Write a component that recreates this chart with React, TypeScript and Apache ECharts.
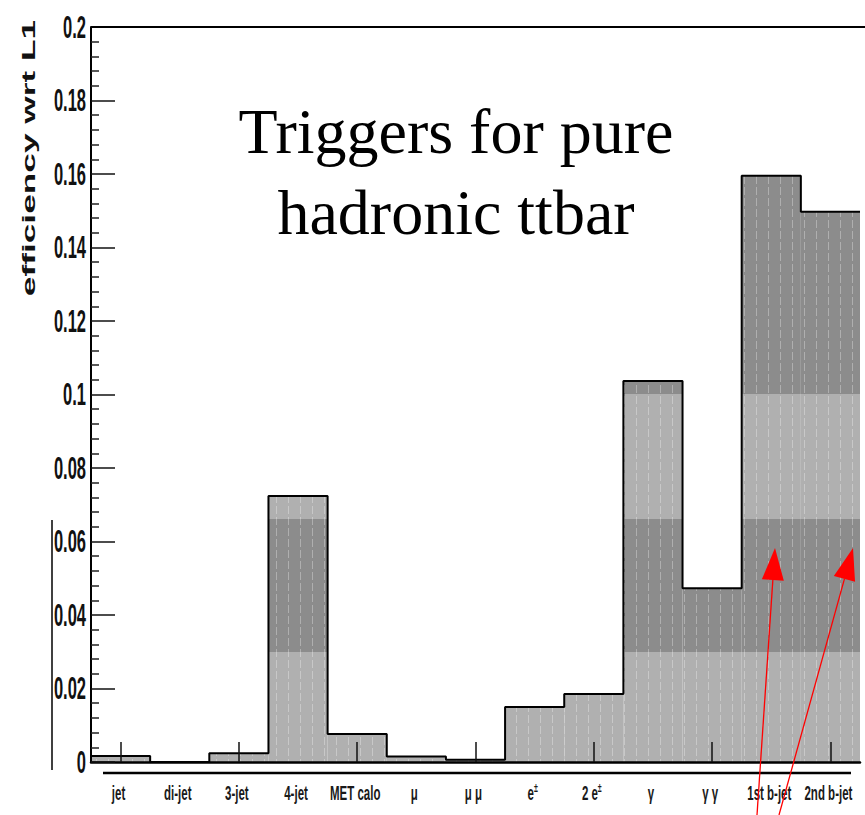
import React, { useEffect, useRef } from 'react';
import * as echarts from 'echarts';

// ---- data ----
const categories = ['jet', 'di-jet', '3-jet', '4-jet', 'MET calo', 'μ', 'μ μ', 'e±', '2 e±', 'γ', 'γ γ', '1st b-jet', '2nd b-jet'];
const efficiency = [0.0016, 0, 0.0024, 0.0724, 0.0076, 0.0015, 0.0006, 0.015, 0.0185, 0.1037, 0.0473, 0.1595, 0.1497];
const yTickValues = [0, 0.02, 0.04, 0.06, 0.08, 0.1, 0.12, 0.14, 0.16, 0.18, 0.2];
const yTickLabels = ['0', '0.02', '0.04', '0.06', '0.08', '0.1', '0.12', '0.14', '0.16', '0.18', '0.2'];
const yAxisTitle = 'efficiency wrt L1';
const titleLines = ['Triggers for pure', 'hadronic ttbar'];
const shadeBands = [0.1, 0.066, 0.03]; // edges of alternating fill shades
const Y_MAX = 0.2;

// ---- layout ----
const W = 865;
const H = 815;
const GRID = { left: 91, right: 5, top: 27, bottom: 53 };
const DARK = '#8c8c8c';
const LIGHT = '#b0b0b0';

function yOffset(v: number) {
  const h = H - GRID.top - GRID.bottom;
  return (GRID.top + (1 - v / Y_MAX) * h) / H;
}

function arrow(tail: [number, number], tip: [number, number]) {
  const dx = tip[0] - tail[0];
  const dy = tip[1] - tail[1];
  const len = Math.hypot(dx, dy);
  const ux = dx / len, uy = dy / len;
  const nx = -uy, ny = ux;
  const headL = 32, headW = 11;
  const bx = tip[0] - ux * headL, by = tip[1] - uy * headL;
  return [
    { type: 'line', z: 100, shape: { x1: tail[0], y1: tail[1], x2: bx, y2: by }, style: { stroke: '#ff0000', lineWidth: 1.3 } },
    { type: 'polygon', z: 100, shape: { points: [[tip[0], tip[1]], [bx + nx * headW, by + ny * headW], [bx - nx * headW, by - ny * headW]] }, style: { fill: '#ff0000' } },
  ];
}

export default function App() {
  const ref = useRef<HTMLDivElement>(null);
  useEffect(() => {
    document.body.style.margin = '0';
    if (!ref.current) return;
    const chart = echarts.init(ref.current, undefined, { renderer: 'svg' });

    const [b1, b2, b3] = shadeBands.map(yOffset);
    const fill = {
      type: 'linear', x: 0, y: 0, x2: 0, y2: H, global: true,
      colorStops: [
        { offset: 0, color: DARK }, { offset: b1, color: DARK },
        { offset: b1, color: LIGHT }, { offset: b2, color: LIGHT },
        { offset: b2, color: DARK }, { offset: b3, color: DARK },
        { offset: b3, color: LIGHT }, { offset: 1, color: LIGHT },
      ],
    };

    const outline: number[][] = [[0, 0]];
    efficiency.forEach((v, i) => { outline.push([i, v]); outline.push([i + 1, v]); });

    chart.setOption({
      animation: false,
      backgroundColor: '#ffffff',
      aria: { enabled: true, decal: { show: true } },
      grid: { left: GRID.left, right: GRID.right, top: GRID.top, bottom: GRID.bottom, containLabel: false },
      xAxis: [
        {
          type: 'category', data: categories, boundaryGap: true, z: 5,
          axisLine: { show: true, onZero: false, lineStyle: { color: '#000', width: 2.5 } },
          axisTick: { show: true, inside: true, length: 20, alignWithLabel: true, lineStyle: { color: '#111', width: 1.5 } },
          axisLabel: { show: false }, splitLine: { show: false },
        },
        { type: 'value', min: 0, max: categories.length, show: false },
      ],
      yAxis: {
        type: 'value', min: 0, max: Y_MAX, interval: 0.02, z: 5,
        axisLine: { show: true, lineStyle: { color: '#000', width: 2 } },
        axisTick: { show: true, inside: true, length: 24, lineStyle: { color: '#111', width: 1.5 } },
        minorTick: { show: true, splitNumber: 5, length: 8, lineStyle: { color: '#222', width: 1.5 } },
        axisLabel: { show: false }, splitLine: { show: false },
      },
      series: [
        {
          type: 'bar', xAxisIndex: 0, data: efficiency, barWidth: '100%', barGap: '0%', barCategoryGap: '0%',
          itemStyle: {
            color: fill,
            decal: { symbol: 'rect', symbolSize: 1, color: 'rgba(255,255,255,0.3)', dashArrayX: [1, 11], dashArrayY: [8, 3], rotation: 0 },
          },
        },
        {
          type: 'line', xAxisIndex: 1, data: outline, symbol: 'none', z: 4,
          lineStyle: { color: '#000', width: 2 },
        },
      ],
    });

    const graphics: any[] = [];
    // y tick labels
    yTickValues.forEach((v, i) => {
      const py = chart.convertToPixel({ yAxisIndex: 0 }, v) as number;
      graphics.push({
        type: 'text', x: 86, y: py, scaleY: 1.85, z: 50,
        style: { text: yTickLabels[i], fontSize: 16.5, fontWeight: 'bold', fontFamily: 'Liberation Sans, Arial, sans-serif', fill: '#111', align: 'right', textAlign: 'right', verticalAlign: 'middle', textVerticalAlign: 'middle' },
      });
    });
    // x category labels
    categories.forEach((c, i) => {
      const px = chart.convertToPixel({ xAxisIndex: 0 }, c) as number;
      graphics.push({
        type: 'text', x: px - 2, y: 793, scaleY: 1.8, z: 50,
        style: {
          text: c.replace('±', '{s|±}'), fontSize: 11.5, fontWeight: 'bold', fontFamily: 'Liberation Sans, Arial, sans-serif', fill: '#1a1a1a',
          align: 'center', textAlign: 'center', verticalAlign: 'middle', textVerticalAlign: 'middle',
          rich: { s: { fontSize: 7, fontWeight: 'bold', fontFamily: 'Liberation Sans, Arial, sans-serif', fill: '#1a1a1a', verticalAlign: 'top', padding: [0, 0, 6, 0] } },
        },
      });
    });
    // y axis title (rotated, stretched)
    graphics.push({
      type: 'text', x: 29, y: 158, rotation: Math.PI / 2, scaleX: 1.96, z: 50,
      style: { text: yAxisTitle, fontSize: 18, fontWeight: 'bold', fontFamily: 'Liberation Sans, Arial, sans-serif', fill: '#111', align: 'center', textAlign: 'center', verticalAlign: 'middle', textVerticalAlign: 'middle' },
    });
    // title
    const titleY = [131, 212];
    titleLines.forEach((t, i) => {
      graphics.push({
        type: 'text', x: 456, y: titleY[i], z: 60,
        style: { text: t, fontSize: 64, fontFamily: 'Liberation Serif, Times New Roman, serif', fill: '#000', align: 'center', textAlign: 'center', verticalAlign: 'middle', textVerticalAlign: 'middle' },
      });
    });
    // frame lines
    graphics.push({ type: 'line', z: 40, shape: { x1: GRID.left, y1: GRID.top, x2: W, y2: GRID.top }, style: { stroke: '#000', lineWidth: 2 } });
    graphics.push({ type: 'line', z: 40, shape: { x1: 103, y1: 773, x2: 851, y2: 773 }, style: { stroke: '#000', lineWidth: 2.5 } });
    graphics.push({ type: 'line', z: 40, shape: { x1: 52, y1: 520, x2: 52, y2: 770 }, style: { stroke: '#000', lineWidth: 1.5 } });
    // red arrows
    graphics.push(...arrow([757, 815], [775, 548]));
    graphics.push(...arrow([779, 815], [853, 548]));

    chart.setOption({ graphic: graphics });

    return () => { chart.dispose(); };
  }, []);

  return <div ref={ref} style={{ position: 'absolute', left: 0, top: 0, width: W, height: H }} />;
}
